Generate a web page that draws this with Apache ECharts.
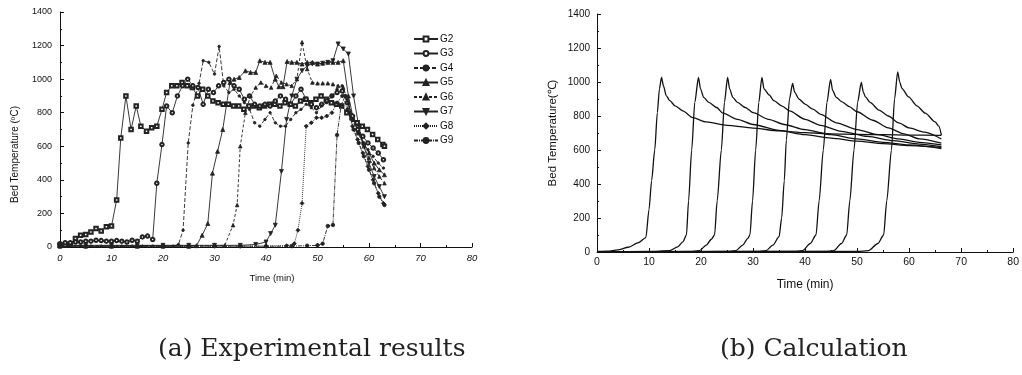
<!DOCTYPE html>
<html><head><meta charset="utf-8">
<script src="https://cdn.jsdelivr.net/npm/echarts@6/dist/echarts.min.js"></script>
<style>html,body{margin:0;padding:0;background:#fff}#c{width:1022px;height:375px}</style>
</head><body><div id="c"></div>
<script>
// ---------- data: (a) experimental results, [time(min), temperature(C)] ----------
const expNames = ['G2','G3','G4','G5','G6','G7','G8','G9'];
const G2 = [[0,10],[1,12],[2,20],[3,50],[4,70],[5,75],[6,90],[7,110],[8,95],[9,120],[10,125],[11,280],[11.8,650],[12.8,900],[13.8,700],[14.8,840],[15.7,720],[16.8,690],[17.8,710],[18.8,720],[19.8,820],[20.7,920],[21.7,960],[22.7,960],[23.7,980],[24.7,960],[25.7,950],[26.7,900],[27.7,940],[28.7,900],[29.7,870],[30.7,860],[31.7,850],[32.7,850],[33.7,840],[34.7,840],[35.7,820],[36.7,840],[37.7,840],[38.7,830],[39.7,840],[40.7,850],[41.7,850],[42.7,840],[43.7,860],[44.7,850],[45.7,840],[46.7,870],[47.7,880],[48.7,860],[49.7,880],[50.7,900],[51.7,880],[52.7,860],[53.7,850],[54.7,840],[55.7,800],[56.7,770],[57.7,740],[58.7,720],[59.7,700],[60.7,670],[61.7,640],[62.7,610],[63,600]];
const G3 = [[0,20],[1,25],[2,25],[3,30],[4,30],[5,35],[6,35],[7,40],[8,38],[9,35],[10,35],[11,38],[12,35],[13,30],[14,40],[15,35],[16,60],[17,65],[18,45],[18.8,380],[19.8,610],[20.7,840],[21.8,800],[22.8,900],[23.8,960],[24.8,1000],[25.8,960],[26.8,950],[27.8,850],[28.8,940],[29.8,920],[30.8,960],[31.8,980],[32.8,1000],[33.8,960],[34.8,940],[35.8,880],[36.8,900],[37.8,850],[38.8,840],[39.8,850],[40.8,840],[41.8,870],[42.8,900],[43.8,880],[44.8,850],[45.8,900],[46.8,940],[47.8,880],[48.8,850],[49.8,830],[50.8,850],[51.8,870],[52.8,900],[53.8,920],[54.8,930],[55.8,860],[56.8,780],[57.8,700],[58.8,660],[59.8,620],[60.8,590],[61.8,560],[62.8,520]];
const G4 = [[0,5],[2,5],[4,8],[6,5],[8,5],[10,5],[12,5],[14,5],[16,5],[18,5],[20,5],[22,5],[23,15],[23.9,100],[24.9,620],[25.8,845],[27,975],[27.8,1110],[28.9,1100],[30,1030],[30.9,1195],[31.8,960],[32.8,920],[33.8,940],[34.8,900],[35.8,860],[36.8,820],[37.8,740],[38.8,720],[39.8,760],[40.8,800],[41.8,740],[42.8,720],[43.8,720],[44.8,760],[45.8,800],[46.8,820],[47.8,850],[48.8,830],[49.8,800],[50.8,840],[51.8,860],[52.8,900],[53.8,940],[54.8,960],[55.8,880],[56.8,760],[57.8,680],[58.8,620],[59.8,580],[60.8,540],[61.8,500],[62.8,470]];
const G5 = [[0,5],[5,5],[10,5],[15,5],[20,5],[25,5],[26.5,8],[27.6,70],[28.7,140],[29.6,440],[30.6,570],[31.6,700],[33,980],[33.8,1000],[34.8,1010],[36,1050],[37,1040],[38,1040],[38.8,1110],[39.8,1100],[40.8,1100],[41.8,1000],[42.5,955],[43.3,955],[44.1,1105],[45,1100],[46,1100],[47,1090],[48,1100],[49,1100],[50,1090],[51,1095],[52,1100],[53,1100],[54,1100],[55,1110],[56,900],[57,760],[58,680],[59,620],[60,560],[61,500],[62,460],[63,430]];
const G6 = [[0,8],[5,8],[10,8],[15,8],[20,8],[25,8],[30,8],[32,10],[33.6,130],[34.4,250],[35,600],[36,800],[37,900],[38,950],[39,980],[40,960],[41,950],[42,1020],[43,980],[44,970],[45,960],[46,1000],[47,1220],[48,1060],[49,980],[50,975],[51,975],[52,975],[53,970],[54,960],[55,950],[56,860],[57,760],[58,680],[59,600],[60,530],[61,470],[62,420],[63,380]];
const G7 = [[0,10],[5,10],[10,10],[15,10],[20,10],[25,10],[30,10],[35,10],[38,15],[40,30],[40.9,80],[41.8,130],[43,450],[44,760],[45,900],[46,1000],[47,1050],[48,1080],[49,1090],[50,1090],[51,1095],[52,1100],[53,1110],[54,1210],[55,1180],[56,1150],[57,900],[58,720],[59,600],[60,500],[61,420],[62,360],[63,300]];
const G8 = [[0,5],[5,5],[10,5],[15,5],[20,5],[25,5],[30,5],[35,5],[40,5],[44,8],[45.5,20],[46.2,100],[47,260],[47.8,720],[48.8,740],[49.8,770],[50.8,770],[51.8,780],[52.8,800],[53.8,860],[54.8,900],[55.8,820],[56.8,720],[57.8,640],[58.8,560],[59.8,480],[60.8,400],[61.8,320],[62.8,260]];
const G9 = [[0,5],[5,5],[10,5],[15,5],[20,5],[25,5],[30,5],[35,5],[40,5],[45,5],[48,8],[50,10],[51,20],[52,125],[53,131],[53.8,667],[54.6,845],[55.4,900],[56.2,800],[57,700],[58,620],[59,540],[60,460],[61,380],[62,300],[63,250]];

// ---------- data: (b) calculation, [time(min), temperature(C)] ----------
const C1 = [[0,3],[2,5],[4,12],[6,28],[8,55],[9.4,85],[10,250],[10.5,420],[11.1,600],[11.6,820],[12,960],[12.4,1027],[12.8,975],[13.3,920],[14,890],[15,860],[16.5,830],[18.4,790],[21,765],[25,745],[30,729],[35,712],[40,702],[45,695],[50,692],[55,690],[60,688],[66.2,686]];
const C2 = [[0,2],[10,3],[14,8],[15.5,30],[16.5,60],[17.2,100],[17.6,300],[18.2,600],[18.8,880],[19.5,1027],[19.9,960],[20.5,910],[21.5,880],[23,850],[24.2,817],[27,780],[30,750],[35,715],[40,690],[45,670],[50,652],[55,638],[60,626],[66.2,615]];
const C3 = [[0,2],[18,3],[19.7,8],[21,40],[22,75],[22.6,100],[23.1,300],[23.9,600],[24.5,880],[25.1,1027],[25.5,960],[26.1,910],[27,880],[28.5,850],[30,820],[33,780],[36,750],[40,720],[45,690],[50,665],[55,645],[60,630],[66.2,608]];
const C4 = [[0,2],[25,3],[26.7,8],[28,40],[29,80],[29.4,100],[29.9,300],[30.5,600],[31.1,880],[31.7,1027],[32.1,960],[33.1,924],[34,890],[35.5,860],[37,830],[40,780],[43,745],[47,710],[52,680],[57,655],[62,635],[66.2,620]];
const C5 = [[0,2],[31,3],[32.5,8],[33.8,40],[35,90],[35.5,200],[36,420],[36.4,660],[37,900],[37.6,992],[38,940],[38.8,900],[40,870],[41.5,840],[43,810],[46,760],[50,720],[54,690],[58,665],[62,645],[66.2,630]];
const C6 = [[0,2],[38,3],[39.5,8],[41,50],[42.1,100],[42.7,300],[43.5,600],[44.2,880],[44.9,1016],[45.3,950],[46,910],[47,885],[48.5,855],[50,825],[53,775],[56,730],[59,695],[62,665],[66.2,640]];
const C7 = [[0,2],[44,3],[45.5,8],[47,50],[48,100],[48.6,300],[49.4,600],[50.1,880],[50.8,997],[51.2,940],[51.6,912],[52.5,880],[54.2,835],[56,800],[58,760],[60,730],[63,705],[66.2,665]];
const C8 = [[0,2],[50,3],[52.2,8],[54,50],[55.1,100],[55.7,300],[56.6,600],[57.2,900],[57.8,1060],[58.2,1000],[58.6,963],[59.9,912],[61.5,860],[63.1,817],[65,765],[65.7,740],[66.2,688]];

const expData = [G2,G3,G4,G5,G6,G7,G8,G9];
const calcData = [C1,C2,C3,C4,C5,C6,C7,C8];
const captionA = '(a) Experimental results';
const captionB = '(b) Calculation';

// ---------- styles ----------
const expStyle = [
  {symbol:'emptyRect', size:3.5, type:'solid'},
  {symbol:'emptyCircle', size:3.5, type:'solid'},
  {symbol:'circle', size:2.5, type:[4,2]},
  {symbol:'triangle', size:4, type:'solid'},
  {symbol:'triangle', size:3.5, type:[3,2]},
  {symbol:'triangle', size:4, type:'solid', rotate:180},
  {symbol:'diamond', size:4, type:[1,1]},
  {symbol:'circle', size:3.5, type:[4,1,1,1]}
];

function axisCommon(extra){
  return Object.assign({
    axisLine:{show:true,lineStyle:{color:'#111',width:1}},
    axisTick:{show:true,inside:true,length:4,lineStyle:{color:'#111'}},
    minorTick:{show:true,splitNumber:2,length:2,lineStyle:{color:'#111'}},
    splitLine:{show:false}
  }, extra);
}
const plain = v => String(v);

const series = [];
expData.forEach((d,i)=>{
  const s = expStyle[i];
  series.push({
    name: expNames[i], type:'line', xAxisIndex:0, yAxisIndex:0,
    data:d, symbol:s.symbol, symbolSize:s.size, symbolRotate:s.rotate||0,
    showAllSymbol:true,
    lineStyle:{color:'#222',width:0.9,type:s.type},
    itemStyle:{color:'#222',borderColor:'#222',borderWidth:0.8},
    animation:false
  });
});
calcData.forEach((d,i)=>{
  series.push({
    type:'line', xAxisIndex:1, yAxisIndex:1, data:d,
    showSymbol:false, smooth:0.25, smoothMonotone:'x',
    lineStyle:{color:'#111',width:1.3}, animation:false
  });
});

const chart = echarts.init(document.getElementById('c'), null, {renderer:'canvas'});
chart.setOption({
  backgroundColor:'#fff',
  animation:false,
  grid:[
    {left:60, top:12, width:412, height:235},
    {left:597, top:14, width:418, height:238}
  ],
  xAxis:[
    axisCommon({type:'value', gridIndex:0, min:0, max:80, interval:10,
      name:'Time (min)', nameLocation:'middle', nameGap:26,
      nameTextStyle:{fontFamily:'Liberation Sans',fontSize:9.5,color:'#111',padding:[0,0,0,12]},
      axisLabel:{color:'#111',fontFamily:'Liberation Sans',fontSize:9.5,fontStyle:'italic',margin:6,formatter:plain}}),
    axisCommon({type:'value', gridIndex:1, min:0, max:80, interval:10,
      name:'Time (min)', nameLocation:'middle', nameGap:27,
      nameTextStyle:{fontFamily:'Liberation Sans',fontSize:12,color:'#111'},
      axisLabel:{color:'#111',fontFamily:'Liberation Sans',fontSize:10.5,margin:5,formatter:plain}})
  ],
  yAxis:[
    axisCommon({type:'value', gridIndex:0, min:0, max:1400, interval:200,
      name:'Bed Temperature (ºC)', nameLocation:'middle', nameGap:40,
      nameTextStyle:{fontFamily:'Liberation Sans',fontSize:10,color:'#111',padding:[0,0,0,-50]},
      axisLabel:{color:'#111',fontFamily:'Liberation Sans',fontSize:9,margin:8,formatter:plain}}),
    axisCommon({type:'value', gridIndex:1, min:0, max:1400, interval:200,
      name:'Bed Temperature(℃)', nameLocation:'middle', nameGap:38,
      nameTextStyle:{fontFamily:'Liberation Sans',fontSize:11.5,color:'#111'},
      axisLabel:{color:'#111',fontFamily:'Liberation Sans',fontSize:10,margin:7,formatter:plain}})
  ],
  legend:{
    data:expNames, orient:'vertical', left:413, top:34, padding:0,
    itemWidth:24, itemHeight:6, itemGap:4.5,
    textStyle:{fontFamily:'Liberation Sans',fontSize:10,color:'#111',padding:[0,0,0,-3]},
    selectedMode:false
  },
  graphic:[
    {type:'text', left:158, top:337, style:{text:captionA, font:'25px "DejaVu Serif"', fill:'#222'}},
    {type:'text', left:720, top:337, style:{text:captionB, font:'25px "DejaVu Serif"', fill:'#222'}}
  ],
  series:series
});
</script></body></html>
